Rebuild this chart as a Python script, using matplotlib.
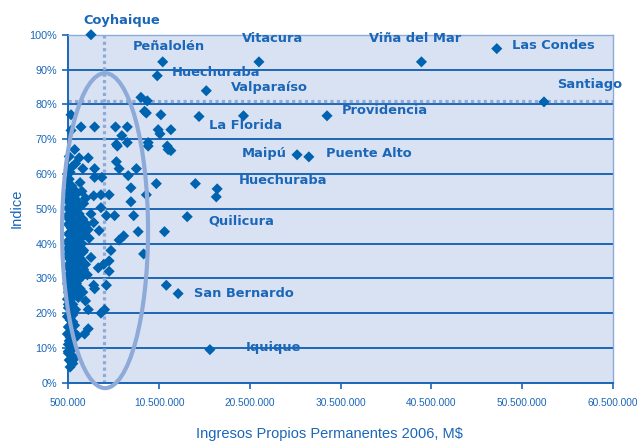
import matplotlib
matplotlib.use("Agg")
import matplotlib.pyplot as plt
from matplotlib.patches import Ellipse
from matplotlib import font_manager

# ---------------- data ----------------
# Ingresos propios permanentes (millones de $) and índice (%)
pts_x_m = [
    # upper / named outliers
    3.0, 10.9, 10.3, 15.7, 21.5, 39.4, 47.7, 52.9,
    8.5, 9.2, 8.9, 9.1, 10.7, 14.9, 19.8, 29.0,
    25.7, 27.0, 16.1, 11.3, 12.6, 13.6, 11.1,
    # 70-80 %
    0.8, 0.8, 1.9, 3.4, 5.7, 7.0, 6.4, 5.9, 7.0, 10.4, 10.6, 11.8, 9.3, 11.4, 11.5,
    # 60-70 %
    1.2, 1.7, 2.7, 2.1, 3.4, 5.8, 6.1, 8.0, 5.8, 11.8, 0.6, 0.9, 0.7, 1.3, 9.3,
    # 50-60 %
    3.4, 4.2, 7.1, 7.4, 10.2, 14.5, 16.9, 16.8, 9.1, 3.3, 4.1, 5.0, 7.4,
    0.5, 0.8, 1.1, 0.6, 1.0, 1.4, 0.7, 1.2, 1.6, 0.5, 0.9, 2.0, 2.4, 1.8, 2.2, 0.4, 1.5,
    # 40-50 %
    7.7, 4.7, 5.6, 4.1, 3.3, 3.9, 6.6, 6.1, 8.2,
    0.4, 0.7, 1.0, 1.3, 1.7, 2.1, 2.5, 0.5, 0.8, 1.1, 1.5, 1.9, 2.3, 2.8, 0.6, 0.9,
    1.2, 1.6, 2.0, 0.4, 0.7, 1.4, 2.7, 3.0,
    # 30-40 %
    5.2, 8.8, 3.0, 3.8, 4.4, 5.0, 5.0,
    0.4, 0.7, 1.0, 1.3, 1.7, 2.1, 0.5, 0.8, 1.1, 1.5, 1.9, 2.4, 0.4, 0.7, 1.0, 1.3,
    1.7, 2.2, 0.5, 0.9, 1.2, 1.6, 2.0, 2.6,
    # 20-30 %
    4.7, 3.3, 3.4, 2.7, 4.5,
    0.4, 0.7, 1.0, 1.4, 1.8, 0.5, 0.8, 1.2, 0.4, 0.7, 1.0, 1.6, 0.5, 0.8, 1.3, 2.1, 2.4,
    # 10-20 %
    4.1, 2.7, 2.3, 0.4, 0.7, 1.0, 0.5, 0.8, 1.2, 0.4, 0.7, 1.1, 0.5, 0.9, 1.5,
    # 0-10 %
    0.5, 0.8, 0.6, 1.0, 0.7, 1.2,
    # extra dense-cluster comunas
    0.6, 0.9, 0.5, 1.1, 0.7, 1.3, 0.6, 0.9, 0.5, 1.0, 0.6, 0.8, 1.2, 0.5, 0.9,
    0.6, 1.0, 0.5, 0.7, 1.1, 0.6, 0.9, 0.5, 0.8, 0.6, 1.0, 0.7, 0.5, 0.9, 0.6,
    1.4, 1.8, 1.5, 1.7, 1.3, 2.0, 1.6, 1.9, 1.4, 2.2,
]
pts_y_pct = [
    100, 92.2, 88.2, 83.9, 92.2, 92.2, 96.0, 80.7,
    82, 81, 78, 77.5, 77, 76.5, 76.7, 76.7,
    65.5, 64.9, 9.5, 28, 25.6, 47.7, 43.4,
    77, 72.5, 73.5, 73.5, 73.5, 73.5, 71, 68, 69, 72.7, 71.5, 72.7, 69, 68, 67,
    67, 64.6, 64.6, 61.5, 61.5, 63.5, 61.5, 61.5, 68.5, 66.7, 65, 62, 60.5, 63, 68,
    59, 59, 59.5, 56, 57.2, 57.2, 55.7, 53.4, 54, 53.7, 54, 54, 52,
    57, 56, 55.5, 54, 53, 52.5, 51.5, 51, 50.5, 50, 49.5, 55, 53, 57.5, 51.5, 52.5, 54.5,
    48, 48, 48, 50.3, 46, 43.7, 42.2, 41, 43.4,
    48, 47.5, 47, 46.5, 48.5, 47, 45.5, 45.5, 44.5, 44, 43.5, 44.5, 42.5, 41.5, 42.5, 41.5,
    41, 40.5, 40, 40.5, 39.5, 42, 44, 48.5,
    38, 37, 36, 33, 34, 35, 32,
    38.5, 37.5, 38, 37, 38.5, 37.5, 36, 35, 35.5, 34.5, 35.5, 34, 33.5, 32.5, 33, 32,
    31.5, 32.5, 31, 30.5, 30, 29.5, 30.5, 31,
    28, 28, 27, 21, 21,
    28.5, 28, 27.5, 28.5, 27, 26, 25.5, 25, 24, 23, 22.5, 24.5, 21.5, 20.5, 21, 26, 23.5,
    20, 15.5, 14, 19, 18, 17.5, 16, 15.5, 16.5, 14, 13, 12.5, 11, 10.5, 13.5,
    9, 8, 6.5, 5.5, 4.5, 7,
    58.5, 56.5, 55, 49, 46, 45, 43, 39, 37, 36.5, 34, 31.5, 29, 27, 26.5,
    24.5, 19.5, 22.5, 18.5, 14.5, 12, 9.5, 8.5, 6, 50.5, 39.5, 33, 29.5, 40.5, 47,
    45, 41.5, 36, 33.5, 30, 42.5, 50, 46.5, 26.5, 38,
]

label_names = ["Coyhaique", "Peñalolén", "Vitacura", "Viña del Mar", "Las Condes",
               "Santiago", "Huechuraba", "Valparaíso", "Providencia", "La Florida",
               "Maipú", "Puente Alto", "Huechuraba", "Quilicura", "San Bernardo", "Iquique"]
label_x_m = [2.2, 7.6, 19.6, 33.6, 49.4, 54.3, 11.9, 18.4, 30.6, 16.0,
             19.6, 28.9, 19.3, 15.9, 14.3, 20.1]
label_y_pct = [104.2, 96.5, 99.0, 99.0, 97.0, 85.8, 89.0, 84.7, 78.1, 73.8,
               66.0, 66.0, 58.2, 46.5, 25.5, 10.2]

ref_x_m = 4.43      # vertical dotted reference
ref_y_pct = 81.0    # horizontal dotted reference
ell_center = (4.55, 43.7)
ell_size = (9.47, 90.5)

xticks_m = [0.5, 10.5, 20.5, 30.5, 40.5, 50.5, 60.5]
xtick_labels = ["500.000", "10.500.000", "20.500.000", "30.500.000",
                "40.500.000", "50.500.000", "60.500.000"]
yticks_pct = [0, 10, 20, 30, 40, 50, 60, 70, 80, 90, 100]
ytick_labels = ["0%", "10%", "20%", "30%", "40%", "50%", "60%", "70%", "80%", "90%", "100%"]

# ---------------- style ----------------
names = {f.name for f in font_manager.fontManager.ttflist}
narrow = "Liberation Sans Narrow" if "Liberation Sans Narrow" in names else "Liberation Sans"

BG = "#d9e2f3"
GRID = "#1b66b6"
MARK = "#0063b0"
TXT = "#1a66b8"
LIGHT = "#8eaad8"

fig = plt.figure(figsize=(6.37, 4.45), dpi=100)
ax = fig.add_axes([0.1072, 0.140, 0.8551, 0.782])
ax.set_facecolor(BG)

M = 1e6
ax.set_xlim(0.5 * M, 60.5 * M)
ax.set_ylim(0, 100)

for v in yticks_pct:
    ax.axhline(v, color=GRID, lw=1.4, zorder=1)

ax.plot([ref_x_m * M, ref_x_m * M], [0, 100], color=LIGHT, lw=2.3,
        ls=(0, (1, 1)), zorder=2)
ax.plot([0.5 * M, 60.5 * M], [ref_y_pct, ref_y_pct], color=LIGHT, lw=2.3,
        ls=(0, (1, 1)), zorder=2)

ax.scatter([x * M for x in pts_x_m], pts_y_pct, marker="D", s=32, color=MARK,
           edgecolors="none", zorder=4, clip_on=False)

ell = Ellipse((ell_center[0] * M, ell_center[1]), ell_size[0] * M, ell_size[1],
              fill=False, edgecolor=LIGHT, lw=3.0, zorder=5, clip_on=False)
ax.add_patch(ell)

for name, lx, ly in zip(label_names, label_x_m, label_y_pct):
    ax.text(lx * M, ly, name, color=TXT, fontsize=9.4, fontweight="bold",
            ha="left", va="center", zorder=6, clip_on=False)

ax.set_xticks([x * M for x in xticks_m])
ax.set_xticklabels(xtick_labels, fontfamily=narrow, fontsize=7.3, color=TXT)
ax.set_yticks(yticks_pct)
ax.set_yticklabels(ytick_labels, fontfamily=narrow, fontsize=7.8, color=TXT)
ax.tick_params(axis="both", direction="out", length=4, width=1.2, color=GRID, pad=4)
ax.tick_params(axis="x", pad=7)

for side in ["left", "bottom"]:
    ax.spines[side].set_color(GRID)
    ax.spines[side].set_linewidth(1.4)
for side in ["top", "right"]:
    ax.spines[side].set_color(LIGHT)
    ax.spines[side].set_linewidth(1.0)

ax.set_xlabel("Ingresos Propios Permanentes 2006, M$", fontfamily=narrow,
              fontsize=10.5, color=TXT)
ax.xaxis.set_label_coords(0.48, -0.128)
ax.set_ylabel("Indice", fontfamily=narrow, fontsize=10.5, color=TXT)
ax.yaxis.set_label_coords(-0.082, 0.5)

fig.savefig("out.png", dpi=100)
